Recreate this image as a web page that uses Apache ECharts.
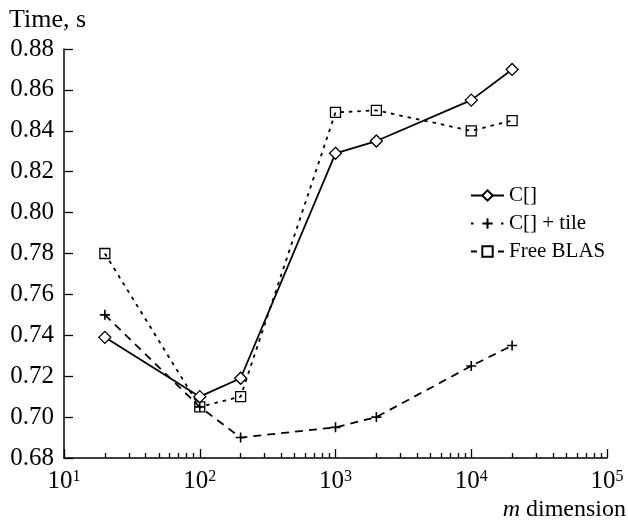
<!DOCTYPE html>
<html>
<head>
<meta charset="utf-8">
<script src="https://cdn.jsdelivr.net/npm/echarts@6/dist/echarts.min.js"></script>
<style>
html,body{margin:0;padding:0;background:#fff;}
#chart{width:628px;height:521px;}
</style>
</head>
<body>
<div id="chart"></div>
<script>
const xValues = [20, 100, 200, 1000, 2000, 10000, 20000];
const cValues = [0.739, 0.710, 0.719, 0.829, 0.835, 0.855, 0.870];
const tileValues = [0.750, 0.705, 0.690, 0.695, 0.700, 0.725, 0.735];
const blasValues = [0.780, 0.705, 0.710, 0.849, 0.850, 0.840, 0.845];
const seriesNames = ['C[]', 'C[] + tile', 'Free BLAS'];
const xExponents = ['1', '2', '3', '4', '5'];
const yTickLabels = ['0.68','0.70','0.72','0.74','0.76','0.78','0.80','0.82','0.84','0.86','0.88'];

// minor tick positions (2..9 within each decade), expressed as log10 for a helper value axis
const minorTickExps = [];
[1, 2, 3, 4].forEach(function (d) {
  for (let k = 2; k <= 9; k++) minorTickExps.push(d + Math.log10(k));
});

const FONT = 'Liberation Serif';
const pair = function (vals) { return xValues.map(function (x, i) { return [x, vals[i]]; }); };
const plusPath = 'path://M0,5L10,5M5,0L5,10';

const chart = echarts.init(document.getElementById('chart'));
chart.setOption({
  backgroundColor: '#fff',
  animation: false,
  textStyle: { fontFamily: FONT, color: '#000' },
  title: [
    { text: 'Time, s', left: 9, top: 7, padding: 0,
      textStyle: { fontFamily: FONT, fontSize: 26, fontWeight: 'normal', color: '#000' } },
    { text: '{i|m} dimension', right: 2, top: 498, padding: 0,
      textStyle: { fontFamily: FONT, fontSize: 24, fontWeight: 'normal', color: '#000',
        rich: { i: { fontFamily: FONT, fontSize: 24, fontStyle: 'italic', color: '#000' } } } }
  ],
  grid: { left: 64, right: 21, top: 49, bottom: 63, containLabel: false },
  legend: {
    left: 465, top: 180, orient: 'vertical', itemWidth: 33, itemHeight: 13, itemGap: 7,
    textStyle: { fontFamily: FONT, fontSize: 21, color: '#000' },
    data: [
      { name: seriesNames[0] },
      { name: seriesNames[1], lineStyle: { type: [2.5, 12.5], width: 2 } },
      { name: seriesNames[2], lineStyle: { type: [6, 21], width: 2 } }
    ]
  },
  xAxis: [
    {
      type: 'log', logBase: 10, min: 10, max: 100000, position: 'bottom',
      axisLine: { onZero: false, lineStyle: { color: '#000', width: 1.5 } },
      axisTick: { inside: true, length: 9, lineStyle: { color: '#000', width: 1.3 } },
      splitLine: { show: false },
      axisLabel: {
        margin: 11, color: '#000',
        formatter: function (v) {
          const e = Math.round(Math.log10(v));
          return '{b|10}{s|' + xExponents[e - 1] + '}';
        },
        rich: {
          b: { fontFamily: FONT, fontSize: 25, color: '#000' },
          s: { fontFamily: FONT, fontSize: 16, color: '#000', verticalAlign: 'top' }
        }
      }
    },
    {
      type: 'value', min: 1, max: 5, position: 'bottom',
      axisLine: { show: false, onZero: false },
      axisTick: { show: true, inside: true, length: 5, customValues: minorTickExps,
        lineStyle: { color: '#000', width: 1.3 } },
      axisLabel: { show: false },
      splitLine: { show: false }
    }
  ],
  yAxis: {
    type: 'value', min: 0.68, max: 0.88, interval: 0.02,
    axisLine: { show: true, onZero: false, lineStyle: { color: '#000', width: 1.5 } },
    axisTick: { show: true, inside: true, length: 9, lineStyle: { color: '#000', width: 1.3 } },
    splitLine: { show: false },
    axisLabel: {
      margin: 10, color: '#000', fontFamily: FONT, fontSize: 25,
      formatter: function (v) { return yTickLabels[Math.round((v - 0.68) / 0.02)]; }
    }
  },
  series: [
    {
      name: seriesNames[0], type: 'line', data: pair(cValues), xAxisIndex: 0,
      symbol: 'diamond', symbolSize: [12, 12],
      lineStyle: { color: '#000', width: 1.8, type: 'solid' },
      itemStyle: { color: '#fff', borderColor: '#000', borderWidth: 1.3 },
      z: 4
    },
    {
      name: seriesNames[1], type: 'line', data: pair(tileValues), xAxisIndex: 0,
      symbol: plusPath, symbolSize: 10,
      lineStyle: { color: '#000', width: 1.8, type: [8, 6] },
      itemStyle: { color: '#000', borderColor: '#000', borderWidth: 1.6 },
      z: 3
    },
    {
      name: seriesNames[2], type: 'line', data: pair(blasValues), xAxisIndex: 0,
      symbol: 'rect', symbolSize: 10,
      lineStyle: { color: '#000', width: 1.8, type: [3.5, 5] },
      itemStyle: { color: 'rgba(255,255,255,0)', borderColor: '#000', borderWidth: 1.3 },
      z: 3
    }
  ]
});
</script>
</body>
</html>
